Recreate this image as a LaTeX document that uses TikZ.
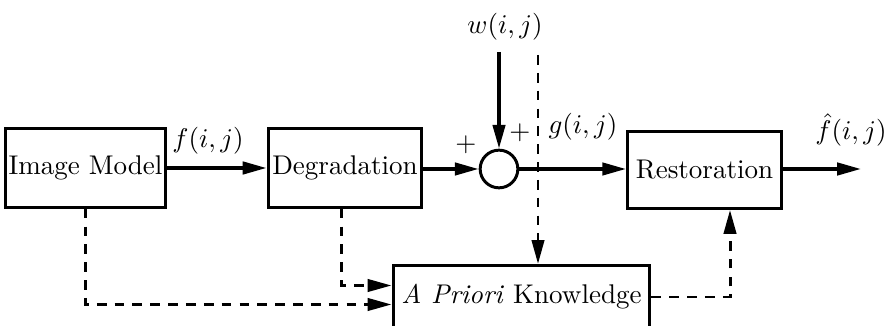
\documentclass[tikz,border=0pt]{standalone}
\usepackage{amsmath}
\usepackage{tikz}
\usetikzlibrary{arrows.meta, positioning, calc}

\begin{document}
\begin{tikzpicture}[
  x=0.013cm, y=-0.013cm,
  every node/.style={font=\normalsize},
  block/.style={draw, line width=1.1pt, minimum width=2.0cm, minimum height=1.02cm, inner sep=1pt},
  adder/.style={draw, circle, line width=1.1pt, minimum size=0.49cm, inner sep=0pt},
  arrow/.style={-{Triangle[length=3.1mm, width=1.6mm]}, line width=1.3pt},
  dasharrow/.style={-{Triangle[length=3.1mm, width=1.6mm]}, line width=1.1pt, dash pattern=on 3.6pt off 3pt}
]
  \useasboundingbox (0,0) rectangle (889,326);

  \node[block] (model) at (85.5,168) {Image Model};
  \node[block] (degr) at (345,168) {Degradation};
  \node[adder] (sum) at (499,169) {};
  \node[block, minimum height=1.0cm] (rest) at (704.5,170) {Restoration};
  \node[block, minimum width=3.34cm, minimum height=0.82cm] (prior) at (521.5,297) {\textit{A Priori} Knowledge};

  \coordinate (win) at (499,52);
  \coordinate (wtap) at (538,55);
  \coordinate (out) at (861,169);

  \node (wlbl) at (505,27) {$w(i,j)$};
  \node (flbl) at (208,141) {$f(i,j)$};
  \node (glbl) at (583,127) {$g(i,j)$};
  \node (fhlbl) at (851,130) {$\hat{f}(i,j)$};
  \node (pl1) at (466,145) {$+$};
  \node (pl2) at (520,133) {$+$};

  \draw[arrow] (model) -- (degr);
  \draw[arrow] (degr.east |- sum) -- (sum);
  \draw[arrow] (sum) -- (rest.west |- sum);
  \draw[arrow] (rest.east |- out) -- (out);
  \draw[arrow] (win) -- (sum);

  \draw[dasharrow] (wtap) -- (wtap |- prior.north);
  \draw[dasharrow] (model.south) |- ($(prior.west)+(0,7.5)$);
  \draw[dasharrow] ([xshift=-0.04cm]degr.south) |- ($(prior.west)+(0,-11.5)$);
  \draw[dasharrow] (prior.east) -| ($(rest.south)+(25.5,0)$);

\end{tikzpicture}
\end{document}
